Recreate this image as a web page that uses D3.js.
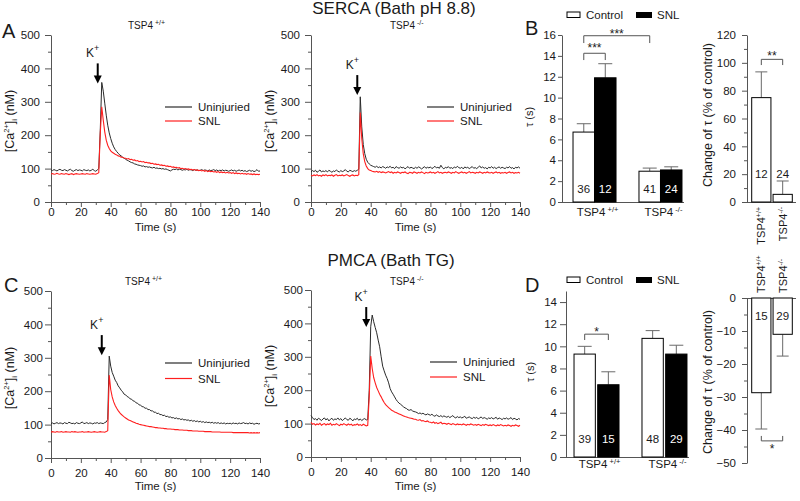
<!DOCTYPE html>
<html><head><meta charset="utf-8">
<script src="https://cdn.jsdelivr.net/npm/d3@7"></script>
<style>
body{margin:0;background:#fff;}
svg{display:block;}
</style></head><body>
<svg id="chart" width="800" height="501"></svg>
<script>
// ---------------- DATA ----------------
const traceTime = d3.range(0, 141); // seconds, 1 s sampling

// SERCA, TSP4 +/+
const sercaWT_uninjured = [
96,94,97,95,93,96,98,95,94,97, 95,93,96,98,94,92,95,97,94,96, 95,93,97,95,94,96,93,95,98,94,
92,96,100,215,358,332,296,260,230,207,
190,176,165,157,151,146,141,138,134,131, 128,125,123,120,118,117,114,113,111,110,
109,107,108,105,106,104,105,103,102,104, 101,102,100,101,99,100,98,99,97,95,
93,96,98,97,99,96,98,97,95,97, 96,98,95,97,96,94,97,95,96,94,
95,97,94,96,95,93,96,94,95,97, 94,96,93,95,94,96,93,95,94,92,
94,96,93,95,92,94,96,93,95,92, 94,91,93,95,92,94,91,93,97,92,93];
const sercaWT_snl = [
84,85,83,84,86,84,83,85,84,83, 85,84,82,84,85,82,84,85,84,83, 84,85,84,83,85,84,83,84,85,84,
83,85,88,205,285,245,210,185,170,160,
153,149,146,143,141,138,137,134,134,132, 131,129,130,127,128,125,126,123,124,121,
122,120,121,118,119,117,117,115,116,113, 114,112,113,110,111,109,110,107,108,106,
107,104,105,103,104,102,103,100,101,99, 100,98,99,97,98,96,97,95,96,94,
95,93,95,92,94,91,93,91,92,90, 91,89,91,88,90,88,89,87,89,87,
88,86,88,85,87,85,86,84,86,84, 85,83,85,83,84,82,84,82,83,82,83];

// SERCA, TSP4 -/-
const sercaKO_uninjured = [
90,94,91,95,89,92,96,90,93,91, 94,90,95,92,89,93,91,96,92,90, 94,91,93,97,92,90,95,93,91,94,
92,95,98,315,225,172,145,128,119,114,
110,108,106,104,107,103,105,102,106,104, 101,105,103,107,102,104,100,106,103,101,
105,102,104,99,103,106,101,104,102,100, 104,101,105,103,99,102,106,101,104,102,
105,100,103,107,102,104,101,110,103,99, 104,102,106,101,103,100,105,102,107,103,
101,104,99,105,102,104,100,103,106,101, 103,100,104,108,102,105,101,103,99,104,
102,106,101,104,100,103,105,101,104,102, 100,104,102,106,101,103,99,104,102,105,101];
const sercaKO_snl = [
80,78,81,79,82,78,80,77,81,79, 82,78,80,79,81,77,80,82,78,80, 79,81,78,80,82,79,77,80,81,78,
80,79,82,268,190,145,121,108,100,96,
94,92,91,90,92,89,91,88,90,89, 87,89,91,88,90,86,89,87,90,88,
86,89,88,90,87,85,89,88,86,90, 88,86,89,87,90,88,85,89,87,88,
90,87,89,86,88,91,87,89,86,88, 89,87,90,88,86,89,87,91,88,86,
88,90,87,89,86,88,91,87,89,88, 86,89,87,90,88,86,89,87,90,88,
87,89,86,88,90,87,89,86,88,87, 89,86,88,90,87,89,86,88,87,89,86];

// PMCA, TSP4 +/+
const pmcaWT_uninjured = [
103,105,102,104,106,103,105,104,102,106, 104,103,107,105,103,104,102,106,104,103, 105,108,103,104,106,103,105,104,102,105,
104,106,103,105,104,103,106,108,115,305,
275,256,245,233,226,216,210,203,198,191, 189,184,182,177,176,171,170,165,164,159,
158,154,153,149,149,145,145,141,141,137, 137,133,134,130,130,127,128,124,125,122,
123,120,121,118,120,117,118,115,117,114, 115,113,114,111,113,110,112,109,111,108,
110,107,109,106,108,106,107,105,107,104, 106,104,106,103,105,103,105,102,104,103,
104,102,105,103,104,102,105,103,104,106, 103,104,102,105,103,104,101,103,104,102,103];
const pmcaWT_snl = [
78,79,78,77,79,78,78,79,77,78, 79,78,78,77,79,78,79,78,77,78, 78,79,77,78,78,79,78,77,78,79,
78,77,78,79,78,78,77,79,82,248,
205,183,168,157,149,142,136,131,127,123, 120,117,114,112,110,108,106,104,103,101,
100,99,98,97,96,95,94,94,93,92, 91,91,90,90,89,89,88,88,87,87,
87,86,86,85,85,85,84,84,84,83, 83,83,82,82,82,81,81,81,81,80,
80,80,80,79,79,79,79,79,78,78, 78,78,78,78,77,77,77,77,77,77,
77,77,76,76,76,76,76,76,76,76, 76,76,76,75,76,75,76,75,76,75,76];

// PMCA, TSP4 -/-
const pmcaKO_uninjured = [
124,118,112,115,110,116,113,109,114,117, 111,115,108,113,116,110,114,112,117,111, 115,109,113,117,112,110,116,113,108,114,
112,116,110,114,109,113,115,111,112,200,
390,425,405,388,372,350,330,300,272,258, 245,235,222,205,195,188,180,172,166,161,
158,154,150,147,145,141,140,142,138,136, 135,133,130,132,129,131,128,126,129,127,
125,128,124,122,126,123,121,124,120,123, 121,119,122,118,121,124,119,117,121,118,
120,117,119,122,116,118,120,117,115,119, 116,119,114,117,120,115,118,116,113,117,
115,118,114,116,119,113,117,115,112,116, 114,117,113,115,118,112,116,114,111,115,113];
const pmcaKO_snl = [
104,98,100,96,99,97,101,95,98,100, 96,99,97,101,95,98,96,100,97,94, 98,96,100,97,95,99,96,98,94,97,
96,99,95,97,94,98,96,93,95,180,
302,265,238,222,208,198,188,180,171,163, 157,152,148,144,140,138,135,133,131,129,
127,125,123,121,120,118,117,116,115,113, 113,111,110,112,108,109,107,106,108,105,
104,102,105,101,103,100,102,104,99,101, 100,98,101,99,97,100,98,96,99,97,
98,96,99,97,95,98,96,99,97,95, 97,95,98,96,94,97,95,98,96,94,
96,94,97,95,93,96,94,97,95,93, 95,93,96,94,92,95,93,96,94,92,95];

const caTicks = [0, 100, 200, 300, 400, 500];
const caMinor = [50, 150, 250, 350, 450];
const timeTicks = [0, 20, 40, 60, 80, 100, 120, 140];
const timeMinor = [10, 30, 50, 70, 90, 110, 130];

// Bar data
const genotypes = ["+/+", "-/-"];
const conditions = ["Control", "SNL"];
const sercaTauControl = [6.7, 2.95];
const sercaTauControlErr = [0.8, 0.3];
const sercaTauSnl = [11.9, 3.07];
const sercaTauSnlErr = [1.35, 0.3];
const sercaNControl = [36, 41];
const sercaNSnl = [12, 24];
const sercaChange = [75, 5.5];
const sercaChangeErr = [18.5, 9.6];
const sercaChangeN = [12, 24];

const pmcaTauControl = [9.3, 10.72];
const pmcaTauControlErr = [0.7, 0.7];
const pmcaTauSnl = [6.53, 9.3];
const pmcaTauSnlErr = [1.17, 0.8];
const pmcaNControl = [39, 48];
const pmcaNSnl = [15, 29];
const pmcaChange = [-28.7, -11.0];
const pmcaChangeErr = [11.0, 6.6];
const pmcaChangeN = [15, 29];

const tauTicks16 = [0,2,4,6,8,10,12,14,16];
const tauTicks14 = [0,2,4,6,8,10,12,14];
const changeTicksS = [0,20,40,60,80,100,120];
const changeMinorS = [10,30,50,70,90,110];
const changeTicksP = [0,-10,-20,-30,-40,-50];
const changeMinorP = [-5,-15,-25,-35,-45];

// ---------------- DRAW ----------------
const FONT = '"Liberation Sans", Arial, Helvetica, sans-serif';
const AXIS = "#555", TXT = "#1a1a1a", ERR = "#6a6a6a";
const BLACKLINE = "#2a2a2a", REDLINE = "#ff1f1f";
const svg = d3.select("#chart").attr("font-family", FONT);

function styleAxis(sel, fs) {
  sel.attr("font-family", FONT).attr("font-size", fs);
  sel.selectAll(".domain, .tick line").attr("stroke", AXIS);
  sel.selectAll(".tick text").attr("fill", TXT);
}

function supText(g, x, y, base, sup, fs, sfs, anchor, dyUp) {
  const t = g.append("text").attr("x", x).attr("y", y).attr("font-size", fs)
    .attr("fill", TXT).attr("text-anchor", anchor || "start");
  t.append("tspan").text(base);
  t.append("tspan").attr("font-size", sfs).attr("dy", -(dyUp || 4)).text(sup);
  return t;
}

function drawTrace(p) {
  const g = svg.append("g");
  const x = d3.scaleLinear().domain([0, 140]).range([p.left, p.right]);
  const y = d3.scaleLinear().domain([0, 500]).range([p.bottom, p.top]);

  const ya = g.append("g").attr("transform", `translate(${p.left},0)`)
    .call(d3.axisLeft(y).tickValues(caTicks).tickSize(6).tickPadding(p.yPad).tickSizeOuter(0));
  styleAxis(ya, 11.5);
  const ym = g.append("g").attr("transform", `translate(${p.left},0)`)
    .call(d3.axisLeft(y).tickValues(caMinor).tickSize(3).tickFormat(""));
  ym.select(".domain").remove(); styleAxis(ym, 11.5);
  const xa = g.append("g").attr("transform", `translate(0,${p.bottom})`)
    .call(d3.axisBottom(x).tickValues(timeTicks).tickSize(5).tickPadding(p.xPad).tickSizeOuter(0));
  styleAxis(xa, 11.5);
  const xm = g.append("g").attr("transform", `translate(0,${p.bottom})`)
    .call(d3.axisBottom(x).tickValues(timeMinor).tickSize(3).tickFormat(""));
  xm.select(".domain").remove(); styleAxis(xm, 11.5);

  g.append("text").attr("x", (p.left + p.right) / 2).attr("y", p.timeY).attr("text-anchor", "middle")
    .attr("font-size", 11.5).attr("fill", TXT).text("Time (s)");

  // y label
  const t = g.append("text").attr("transform", `translate(${p.ylx},${p.yly}) rotate(-90)`)
    .attr("text-anchor", "middle").attr("font-size", 12.5).attr("fill", TXT);
  t.append("tspan").text("[Ca");
  t.append("tspan").attr("font-size", 7.5).attr("dy", -5).text("2+");
  t.append("tspan").attr("dy", 5).text("]");
  t.append("tspan").attr("font-size", 7.5).attr("dy", 3).text("i");
  t.append("tspan").attr("dy", -3).text("  (nM)");

  const line = d3.line().x((d, i) => x(traceTime[i])).y(d => y(d));
  g.append("path").datum(p.uninj).attr("d", line).attr("fill", "none")
    .attr("stroke", BLACKLINE).attr("stroke-width", 1);
  g.append("path").datum(p.snl).attr("d", line).attr("fill", "none")
    .attr("stroke", REDLINE).attr("stroke-width", 1.1);

  // arrow + K+
  const ax = x(p.arrow.t), a1 = y(p.arrow.from), a2 = y(p.arrow.to);
  g.append("line").attr("x1", ax).attr("x2", ax).attr("y1", a1).attr("y2", a2 - 6)
    .attr("stroke", "#000").attr("stroke-width", 2);
  g.append("path").attr("d", `M${ax - 4},${a2 - 8}L${ax + 4},${a2 - 8}L${ax},${a2}Z`).attr("fill", "#000");
  supText(g, ax - 5, a1 - 6, "K", "+", 12, 9, "middle", 6);

  // legend
  [["Uninjuried", BLACKLINE], ["SNL", REDLINE]].forEach((d, i) => {
    const ly = p.legY + i * p.legDY;
    g.append("line").attr("x1", p.legX).attr("x2", p.legX + 27).attr("y1", ly).attr("y2", ly)
      .attr("stroke", d[1]).attr("stroke-width", 1.2);
    g.append("text").attr("x", p.legX + 33).attr("y", ly + 4).attr("font-size", 11.5)
      .attr("fill", TXT).text(d[0]);
  });

  // subtitle
  supText(g, p.subX, p.subY, "TSP4", " " + p.geno, 10, 7, "start", 4);
}

drawTrace({left: 51, right: 260, bottom: 202, top: 35, yPad: 5, xPad: 1, timeY: 231,
  ylx: 14, yly: 121, uninj: sercaWT_uninjured, snl: sercaWT_snl,
  arrow: {t: 31.3, from: 415, to: 355}, legX: 165, legY: 107, legDY: 14,
  subX: 128, subY: 29, geno: "+/+"});
drawTrace({left: 311, right: 520, bottom: 202, top: 35, yPad: 5, xPad: 1, timeY: 231,
  ylx: 274, yly: 121, uninj: sercaKO_uninjured, snl: sercaKO_snl,
  arrow: {t: 31, from: 380, to: 320}, legX: 427, legY: 107, legDY: 14,
  subX: 390, subY: 29, geno: "-/-"});
drawTrace({left: 51, right: 260, bottom: 458, top: 291, yPad: 2, xPad: 6, timeY: 490,
  ylx: 14, yly: 378, uninj: pmcaWT_uninjured, snl: pmcaWT_snl,
  arrow: {t: 34, from: 368, to: 308}, legX: 165, legY: 363, legDY: 15.5,
  subX: 125, subY: 285, geno: "+/+"});
drawTrace({left: 311, right: 520, bottom: 457, top: 290, yPad: 2, xPad: 6, timeY: 490,
  ylx: 274, yly: 376, uninj: pmcaKO_uninjured, snl: pmcaKO_snl,
  arrow: {t: 37, from: 449, to: 389}, legX: 430, legY: 362, legDY: 15,
  subX: 390, subY: 285, geno: "-/-"});

// titles & panel letters
svg.append("text").attr("x", 394).attr("y", 14).attr("text-anchor", "middle").attr("font-size", 17)
  .attr("fill", TXT).text("SERCA (Bath pH 8.8)");
svg.append("text").attr("x", 391).attr("y", 266).attr("text-anchor", "middle").attr("font-size", 17)
  .attr("fill", TXT).text("PMCA (Bath TG)");
[["A", 2, 38], ["B", 525, 35], ["C", 4, 292], ["D", 525, 292]].forEach(d => {
  svg.append("text").attr("x", d[1]).attr("y", d[2]).attr("font-size", 20).attr("fill", TXT).text(d[0]);
});

function bracket(g, xa, xb, yLine, yLeg, label, starY) {
  g.append("path").attr("d", `M${xa},${yLeg}V${yLine}H${xb}V${yLeg}`)
    .attr("fill", "none").attr("stroke", "#555").attr("stroke-width", 1);
  g.append("text").attr("x", (xa + xb) / 2).attr("y", starY + 6).attr("text-anchor", "middle")
    .attr("font-size", 12).attr("fill", TXT).text(label);
}

function drawGrouped(p) {
  const g = svg.append("g");
  const x0 = d3.scaleBand().domain(genotypes).range([p.left, p.bandEnd]).paddingInner(p.pi).paddingOuter(p.po);
  const x1 = d3.scaleBand().domain(conditions).range([0, x0.bandwidth()]).paddingInner(p.gap);
  const y = d3.scaleLinear().domain(p.domain).range([p.bottom, p.top]);

  const ya = g.append("g").attr("transform", `translate(${p.left},0)`)
    .call(d3.axisLeft(y).tickValues(p.ticks).tickSize(p.tickSize).tickPadding(p.tickPad).tickSizeOuter(0));
  styleAxis(ya, 11.5);
  g.append("line").attr("x1", p.left).attr("x2", p.axisEnd).attr("y1", y(0) + 0.5).attr("y2", y(0) + 0.5)
    .attr("stroke", AXIS);

  const vals = [p.control, p.snl], errs = [p.controlErr, p.snlErr], ns = [p.nControl, p.nSnl];
  conditions.forEach((c, ci) => {
    genotypes.forEach((gt, gi) => {
      const bx = x0(gt) + x1(c), bw = x1.bandwidth(), v = vals[ci][gi], e = errs[ci][gi];
      const cx = bx + bw / 2;
      g.append("line").attr("x1", cx).attr("x2", cx).attr("y1", y(v)).attr("y2", y(v + e))
        .attr("stroke", ERR);
      g.append("line").attr("x1", cx - 7).attr("x2", cx + 7).attr("y1", y(v + e)).attr("y2", y(v + e))
        .attr("stroke", ERR);
      g.append("rect").attr("x", bx).attr("y", y(v)).attr("width", bw).attr("height", y(0) - y(v))
        .attr("fill", ci ? "#000" : "#fff").attr("stroke", "#000").attr("stroke-width", 1);
      g.append("text").attr("x", cx).attr("y", y(0) - p.nOff).attr("text-anchor", "middle")
        .attr("font-size", 11.5).attr("fill", ci ? "#fff" : TXT).text(ns[ci][gi]);
    });
  });
  genotypes.forEach(gt => {
    supText(g, x0(gt) + x0.bandwidth() / 2 + 3, p.catY, "TSP4", " " + gt, 11.5, 7.5, "middle", 4);
  });

  // y label
  g.append("text").attr("transform", `translate(${p.ylx},${p.yly}) rotate(-90)`)
    .attr("text-anchor", "middle").attr("font-size", 11).attr("fill", TXT).text("τ (s)");

  // legend
  g.append("rect").attr("x", p.legX).attr("y", p.legY).attr("width", 13).attr("height", 5.5)
    .attr("fill", "#fff").attr("stroke", "#000");
  g.append("text").attr("x", p.legX + 19).attr("y", p.legY + 7).attr("font-size", 11.5).attr("fill", TXT).text(conditions[0]);
  g.append("rect").attr("x", p.legX + 69).attr("y", p.legY).attr("width", 16).attr("height", 6)
    .attr("fill", "#000");
  g.append("text").attr("x", p.legX + 90).attr("y", p.legY + 7).attr("font-size", 11.5).attr("fill", TXT).text(conditions[1]);

  const bc = (gt, c) => x0(gt) + x1(c) + x1.bandwidth() / 2;
  p.brackets.forEach(b => {
    bracket(g, bc(b.a[0], b.a[1]), bc(b.b[0], b.b[1]), y(b.line), y(b.leg), b.label, y(b.star));
  });
}

drawGrouped({left: 562, bandEnd: 693, pi: 0.348, po: 0.167, gap: 0, axisEnd: 684,
  bottom: 202, top: 35, domain: [0, 16], ticks: tauTicks16, tickSize: 4, tickPad: 2,
  control: sercaTauControl, controlErr: sercaTauControlErr, snl: sercaTauSnl, snlErr: sercaTauSnlErr,
  nControl: sercaNControl, nSnl: sercaNSnl, nOff: 9, catY: 216, ylx: 533, yly: 117,
  legX: 567, legY: 12,
  brackets: [
    {a: ["+/+", "Control"], b: ["+/+", "SNL"], line: 14.25, leg: 13.6, label: "***", star: 14.9},
    {a: ["+/+", "Control"], b: ["-/-", "Control"], line: 15.93, leg: 15.23, label: "***", star: 16.3}
  ]});
drawGrouped({left: 566, bandEnd: 695, pi: 0.338, po: 0.118, gap: 0.1, axisEnd: 689,
  bottom: 457, top: 291, domain: [0, 15], ticks: tauTicks14, tickSize: 6, tickPad: 3,
  control: pmcaTauControl, controlErr: pmcaTauControlErr, snl: pmcaTauSnl, snlErr: pmcaTauSnlErr,
  nControl: pmcaNControl, nSnl: pmcaNSnl, nOff: 14, catY: 468, ylx: 534, yly: 372,
  legX: 567, legY: 277,
  brackets: [
    {a: ["+/+", "Control"], b: ["+/+", "SNL"], line: 11.1, leg: 10.57, label: "*", star: 11.45}
  ]});

function drawChange(p) {
  const g = svg.append("g");
  const x = d3.scaleBand().domain(genotypes).range([p.left, p.left + 50]).paddingInner(0.1).paddingOuter(0.22);
  const y = d3.scaleLinear().domain(p.domain).range([p.bottom, p.top]);
  const ya = g.append("g").attr("transform", `translate(${p.left},0)`)
    .call(d3.axisLeft(y).tickValues(p.ticks).tickSize(5).tickPadding(6).tickSizeOuter(0));
  styleAxis(ya, 11.5);
  const ym = g.append("g").attr("transform", `translate(${p.left},0)`)
    .call(d3.axisLeft(y).tickValues(p.minor).tickSize(3).tickFormat(""));
  ym.select(".domain").remove(); styleAxis(ym, 11.5);
  g.append("line").attr("x1", p.left).attr("x2", p.left + 49).attr("y1", y(0) + 0.5).attr("y2", y(0) + 0.5)
    .attr("stroke", AXIS);

  p.values.forEach((v, i) => {
    const gt = genotypes[i], bx = x(gt), bw = x.bandwidth(), cx = bx + bw / 2, e = p.errs[i];
    const ve = v + (v >= 0 ? e : -e);
    g.append("line").attr("x1", cx).attr("x2", cx).attr("y1", y(v)).attr("y2", y(ve)).attr("stroke", ERR);
    g.append("line").attr("x1", cx - 6).attr("x2", cx + 6).attr("y1", y(ve)).attr("y2", y(ve)).attr("stroke", ERR);
    g.append("rect").attr("x", bx).attr("y", Math.min(y(0), y(v))).attr("width", bw)
      .attr("height", Math.abs(y(0) - y(v))).attr("fill", "#fff").attr("stroke", "#000");
    g.append("text").attr("x", cx).attr("y", y(0) + p.nOff).attr("text-anchor", "middle")
      .attr("font-size", 11.5).attr("fill", TXT).text(p.ns[i]);
    // rotated category label
    const t = g.append("text").attr("transform", `translate(${cx + 4},${p.catY}) rotate(-90)`)
      .attr("text-anchor", p.catAnchor).attr("font-size", 11).attr("fill", TXT);
    t.append("tspan").text("TSP4");
    t.append("tspan").attr("font-size", 7).attr("dy", -4).text(gt);
  });

  g.append("text").attr("transform", `translate(${p.ylx},${p.yly}) rotate(-90)`)
    .attr("text-anchor", "middle").attr("font-size", 12.5).attr("fill", TXT).text("Change of τ (% of control)");

  const c0 = x(genotypes[0]) + x.bandwidth() / 2, c1 = x(genotypes[1]) + x.bandwidth() / 2;
  bracket(g, c0, c1, y(p.br.line), y(p.br.leg), p.br.label, y(p.br.star));
}

drawChange({left: 747, bottom: 202, top: 35, domain: [0, 120], ticks: changeTicksS, minor: changeMinorS,
  values: sercaChange, errs: sercaChangeErr, ns: sercaChangeN, nOff: -24, catY: 207, catAnchor: "end",
  ylx: 712, yly: 115, br: {line: 102.5, leg: 98.4, label: "**", star: 106}});
drawChange({left: 747, bottom: 463, top: 298, domain: [-50, 0], ticks: changeTicksP, minor: changeMinorP,
  values: pmcaChange, errs: pmcaChangeErr, ns: pmcaChangeN, nOff: 22, catY: 293, catAnchor: "start",
  ylx: 712, yly: 382, br: {line: -43.3, leg: -41.8, label: "*", star: -45}});
</script>
</body></html>
